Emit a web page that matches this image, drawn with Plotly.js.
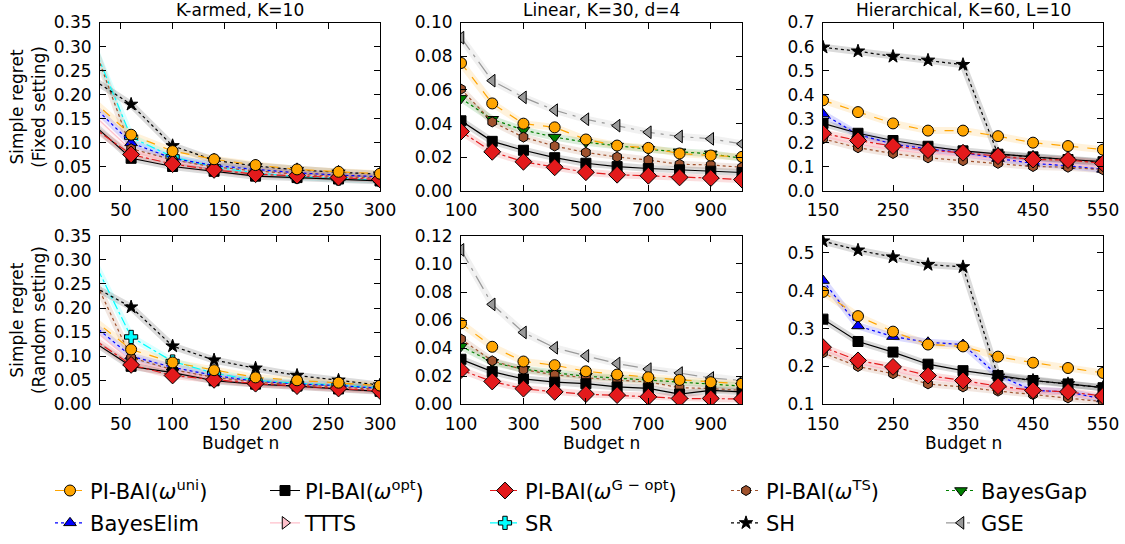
<!DOCTYPE html>
<html><head><meta charset="utf-8">
<script src="https://cdn.plot.ly/plotly-3.0.1.min.js"></script>
<style>html,body{margin:0;padding:0;background:#fff}#chart{width:1125px;height:544px}</style>
</head><body><div id="chart"></div>
<script>
// ---------- DATA ----------
const xKarmed = [20, 60, 100, 140, 180, 220, 260, 300];
const xLinear = [100, 200, 300, 400, 500, 600, 700, 800, 900, 1000];
const xHier = [150, 200, 250, 300, 350, 400, 450, 500, 550];

// K-armed, fixed setting
const kaFixUni  = [0.193, 0.117, 0.083, 0.066, 0.054, 0.045, 0.040, 0.036];
const kaFixOpt  = [0.145, 0.068, 0.051, 0.041, 0.031, 0.028, 0.025, 0.021];
const kaFixGopt = [0.137, 0.076, 0.056, 0.044, 0.035, 0.032, 0.028, 0.024];
const kaFixTS   = [0.324, 0.088, 0.065, 0.050, 0.042, 0.035, 0.030, 0.027];
const kaFixElim = [0.184, 0.100, 0.068, 0.053, 0.045, 0.038, 0.033, 0.030];
const kaFixTTTS = [0.166, 0.085, 0.061, 0.048, 0.040, 0.033, 0.029, 0.026];
const kaFixSR   = [0.321, 0.112, 0.071, 0.050, 0.038, 0.030, 0.026, 0.023];
const kaFixSH   = [0.236, 0.180, 0.094, 0.064, 0.052, 0.044, 0.039, 0.035];

// K-armed, random setting
const kaRndUni  = [0.182, 0.114, 0.087, 0.071, 0.056, 0.050, 0.045, 0.039];
const kaRndOpt  = [0.135, 0.079, 0.066, 0.049, 0.042, 0.038, 0.032, 0.027];
const kaRndGopt = [0.141, 0.082, 0.060, 0.051, 0.043, 0.038, 0.033, 0.028];
const kaRndTS   = [0.281, 0.097, 0.072, 0.056, 0.046, 0.041, 0.037, 0.031];
const kaRndElim = [0.171, 0.100, 0.077, 0.060, 0.048, 0.042, 0.039, 0.033];
const kaRndTTTS = [0.162, 0.090, 0.070, 0.054, 0.045, 0.040, 0.036, 0.030];
const kaRndSR   = [0.315, 0.140, 0.089, 0.065, 0.050, 0.044, 0.040, 0.034];
const kaRndSH   = [0.249, 0.202, 0.121, 0.092, 0.075, 0.060, 0.050, 0.040];

// Linear, fixed setting
const linFixGSE  = [0.091, 0.0655, 0.0556, 0.048, 0.0426, 0.0388, 0.0349, 0.0324, 0.031, 0.028];
const linFixUni  = [0.076, 0.052, 0.040, 0.0378, 0.0306, 0.027, 0.0256, 0.0223, 0.0211, 0.0203];
const linFixTS   = [0.0605, 0.041, 0.032, 0.0267, 0.0229, 0.0202, 0.0184, 0.0159, 0.0155, 0.0141];
const linFixGap  = [0.055, 0.0426, 0.0362, 0.032, 0.029, 0.0267, 0.0248, 0.0233, 0.0221, 0.0194];
const linFixOpt  = [0.0417, 0.0295, 0.0242, 0.0198, 0.0165, 0.0145, 0.0134, 0.0126, 0.0118, 0.011];
const linFixGopt = [0.0353, 0.0233, 0.0174, 0.0141, 0.0112, 0.0097, 0.0091, 0.0081, 0.0077, 0.0068];

// Linear, random setting
const linRndGSE  = [0.110, 0.0712, 0.0512, 0.0403, 0.0345, 0.0291, 0.0251, 0.0223, 0.0188, 0.017];
const linRndUni  = [0.0577, 0.041, 0.0305, 0.0279, 0.0235, 0.0212, 0.0193, 0.0174, 0.0158, 0.0147];
const linRndTS   = [0.0465, 0.031, 0.0247, 0.021, 0.019, 0.0172, 0.016, 0.0119, 0.0112, 0.010];
const linRndGap  = [0.0414, 0.030, 0.025, 0.0223, 0.020, 0.0187, 0.0172, 0.0158, 0.0147, 0.013];
const linRndOpt  = [0.0321, 0.0233, 0.0181, 0.0158, 0.0147, 0.0124, 0.0114, 0.0073, 0.010, 0.0089];
const linRndGopt = [0.0244, 0.0163, 0.0112, 0.0089, 0.0073, 0.0066, 0.0054, 0.0042, 0.0042, 0.0039];

// Hierarchical, fixed setting
const hiFixSH   = [0.597, 0.581, 0.559, 0.543, 0.525, 0.153, 0.140, 0.130, 0.120];
const hiFixUni  = [0.377, 0.328, 0.281, 0.251, 0.251, 0.228, 0.201, 0.187, 0.172];
const hiFixElim = [0.320, 0.235, 0.195, 0.175, 0.160, 0.135, 0.115, 0.105, 0.090];
const hiFixOpt  = [0.281, 0.240, 0.210, 0.186, 0.167, 0.153, 0.142, 0.131, 0.122];
const hiFixGopt = [0.240, 0.210, 0.187, 0.170, 0.159, 0.145, 0.131, 0.129, 0.115];
const hiFixTTTS = [0.225, 0.195, 0.172, 0.155, 0.145, 0.130, 0.120, 0.110, 0.100];
const hiFixTS   = [0.217, 0.180, 0.156, 0.138, 0.126, 0.115, 0.102, 0.099, 0.088];

// Hierarchical, random setting
const hiRndSH   = [0.531, 0.507, 0.489, 0.469, 0.463, 0.174, 0.163, 0.154, 0.144];
const hiRndUni  = [0.397, 0.333, 0.292, 0.258, 0.253, 0.226, 0.210, 0.196, 0.183];
const hiRndElim = [0.427, 0.307, 0.279, 0.264, 0.258, 0.176, 0.137, 0.133, 0.114];
const hiRndOpt  = [0.325, 0.266, 0.238, 0.206, 0.189, 0.176, 0.163, 0.154, 0.144];
const hiRndGopt = [0.251, 0.216, 0.199, 0.176, 0.163, 0.148, 0.137, 0.133, 0.122];
const hiRndTTTS = [0.243, 0.208, 0.188, 0.168, 0.158, 0.142, 0.132, 0.124, 0.113];
const hiRndTS   = [0.236, 0.200, 0.181, 0.154, 0.146, 0.135, 0.126, 0.117, 0.107];

const panelTitles = ['K-armed, K=10', 'Linear, K=30, d=4', 'Hierarchical, K=60, L=10'];
const rowTitles = ['Simple regret<br>(Fixed setting)', 'Simple regret<br>(Random setting)'];
const xTitle = 'Budget n';

// ---------- STYLES ----------
const FONT = 'DejaVu Sans';
const M = {
  uni:  {name: 'PI-BAI(<i>ω</i><sup>uni</sup>)', color: '#FFA500', dash: 'dash', symbol: 'circle', size: 11},
  opt:  {name: 'PI-BAI(<i>ω</i><sup>opt</sup>)', color: '#000000', dash: 'solid', symbol: 'square', size: 10},
  gopt: {name: 'PI-BAI(<i>ω</i><sup>G − opt</sup>)', color: '#E31A1C', dash: 'dashdot', symbol: 'diamond', size: 13},
  ts:   {name: 'PI-BAI(<i>ω</i><sup>TS</sup>)', color: '#A0522D', dash: 'dot', symbol: 'hexagon', size: 10},
  gap:  {name: 'BayesGap', color: '#008000', dash: 'dot', symbol: 'triangle-down', size: 11},
  elim: {name: 'BayesElim', color: '#0000FF', dash: 'dot', symbol: 'triangle-up', size: 11},
  ttts: {name: 'TTTS', color: '#FFC0CB', dash: 'solid', symbol: 'triangle-right', size: 11},
  sr:   {name: 'SR', color: '#00FFFF', dash: 'dashdot', symbol: 'cross', size: 11},
  sh:   {name: 'SH', color: '#000000', dash: 'dot', symbol: 'star', size: 10},
  gse:  {name: 'GSE', color: '#999999', dash: 'longdashdot', symbol: 'triangle-left', size: 11}
};
const legendOrder = ['uni', 'opt', 'gopt', 'ts', 'gap', 'elim', 'ttts', 'sr', 'sh', 'gse'];
const drawOrder = ['ttts', 'sr', 'elim', 'gap', 'ts', 'gse', 'sh', 'opt', 'gopt', 'uni'];
const legendTextX = [95, 310, 530, 771, 986];
const legendRowY = [501, 534];

const panels = [
  {ax: '', x: xKarmed, s: {uni: kaFixUni, opt: kaFixOpt, gopt: kaFixGopt, ts: kaFixTS, elim: kaFixElim, ttts: kaFixTTTS, sr: kaFixSR, sh: kaFixSH}},
  {ax: '2', x: xLinear, s: {gse: linFixGSE, uni: linFixUni, ts: linFixTS, gap: linFixGap, opt: linFixOpt, gopt: linFixGopt}},
  {ax: '3', x: xHier, s: {sh: hiFixSH, uni: hiFixUni, elim: hiFixElim, opt: hiFixOpt, gopt: hiFixGopt, ttts: hiFixTTTS, ts: hiFixTS}},
  {ax: '4', x: xKarmed, s: {uni: kaRndUni, opt: kaRndOpt, gopt: kaRndGopt, ts: kaRndTS, elim: kaRndElim, ttts: kaRndTTTS, sr: kaRndSR, sh: kaRndSH}},
  {ax: '5', x: xLinear, s: {gse: linRndGSE, uni: linRndUni, ts: linRndTS, gap: linRndGap, opt: linRndOpt, gopt: linRndGopt}},
  {ax: '6', x: xHier, s: {sh: hiRndSH, uni: hiRndUni, elim: hiRndElim, opt: hiRndOpt, gopt: hiRndGopt, ttts: hiRndTTTS, ts: hiRndTS}}
];

const traces = [];
const shown = {};
panels.forEach(p => {
  // translucent bands
  drawOrder.forEach(k => {
    if (!p.s[k]) return;
    traces.push({x: p.x, y: p.s[k], xaxis: 'x' + p.ax, yaxis: 'y' + p.ax, type: 'scatter', mode: 'lines',
      line: {color: M[k].color, width: 7}, opacity: 0.14, showlegend: false, hoverinfo: 'skip'});
  });
  drawOrder.forEach(k => {
    if (!p.s[k]) return;
    const li = legendOrder.indexOf(k);
    const first = !shown[k];
    shown[k] = true;
    traces.push({x: p.x, y: p.s[k], xaxis: 'x' + p.ax, yaxis: 'y' + p.ax, type: 'scatter', mode: 'lines+markers',
      name: M[k].name, legend: li === 0 ? 'legend' : 'legend' + (li + 1), showlegend: first,
      line: {color: M[k].color, width: 1.2, dash: M[k].dash},
      marker: {symbol: M[k].symbol, size: M[k].size, color: M[k].color, line: {color: '#000', width: 1}}});
  });
});

const W = 1125, H = 544;
const colPx = [[100, 380], [461, 742], [823, 1103]];
const rowPx = [[23, 195], [240.7, 412.7]];
const xRanges = [[30, 300], [100, 1000], [150, 550]];
const xTicks = [[50, 100, 150, 200, 250, 300], [100, 300, 500, 700, 900], [150, 250, 350, 450, 550]];
const yRanges = [[0, 0.3500001], [0, 0.1000001], [0, 0.7000001], [0, 0.3500001], [0, 0.1200001], [0.1, 0.545]];
const yDticks = [0.05, 0.02, 0.1, 0.05, 0.02, 0.1];
const yFormats = ['.2f', '.2f', '.1f', '.2f', '.2f', '.1f'];

const layout = {
  width: W, height: H, margin: {l: 0, r: 0, t: 0, b: 0},
  paper_bgcolor: '#fff', plot_bgcolor: '#fff',
  font: {family: FONT, color: '#000'},
  showlegend: true, annotations: []
};
const axBase = {showline: true, linecolor: '#000', linewidth: 1, mirror: 'allticks', ticks: 'inside', ticklen: 6,
  tickwidth: 1, tickcolor: '#000', showgrid: false, zeroline: false, fixedrange: true,
  tickfont: {family: FONT, size: 17, color: '#000'}, ticklabelstandoff: 4};
for (let i = 0; i < 6; i++) {
  const r = Math.floor(i / 3), c = i % 3;
  const sfx = i === 0 ? '' : String(i + 1);
  layout['xaxis' + sfx] = Object.assign({}, axBase, {
    domain: [colPx[c][0] / W, colPx[c][1] / W], range: xRanges[c], tickvals: xTicks[c],
    anchor: 'y' + sfx});
  layout['yaxis' + sfx] = Object.assign({}, axBase, {
    domain: [1 - rowPx[r][1] / H, 1 - rowPx[r][0] / H], range: yRanges[i], dtick: yDticks[i],
    tick0: 0, tickformat: yFormats[i], anchor: 'x' + sfx});
}
panelTitles.forEach((t, c) => {
  layout.annotations.push({text: t, xref: 'paper', yref: 'paper', x: (colPx[c][0] + colPx[c][1]) / 2 / W,
    y: 1 - 10 / H, xanchor: 'center', yanchor: 'middle', showarrow: false, font: {family: FONT, size: 17}});
  layout.annotations.push({text: xTitle, xref: 'paper', yref: 'paper', x: (colPx[c][0] + colPx[c][1]) / 2 / W,
    y: 1 - 452 / H, xanchor: 'center', yanchor: 'middle', showarrow: false, font: {family: FONT, size: 17}});
});
rowTitles.forEach((t, r) => {
  layout.annotations.push({text: t, xref: 'paper', yref: 'paper', x: 28 / W,
    y: 1 - (rowPx[r][0] + rowPx[r][1]) / 2 / H, xanchor: 'center', yanchor: 'middle', textangle: -90,
    showarrow: false, font: {family: FONT, size: 17}});
});
legendOrder.forEach((k, li) => {
  const key = li === 0 ? 'legend' : 'legend' + (li + 1);
  const col = li % 5, row = Math.floor(li / 5);
  layout[key] = {x: (legendTextX[col] - 45) / W, y: 1 - legendRowY[row] / H, xanchor: 'left', yanchor: 'middle',
    orientation: 'v', bgcolor: 'rgba(0,0,0,0)', borderwidth: 0, font: {family: FONT, size: 21, color: '#000'},
    itemwidth: 30};
});

Plotly.newPlot('chart', traces, layout, {staticPlot: true, displayModeBar: false});
</script></body></html>
